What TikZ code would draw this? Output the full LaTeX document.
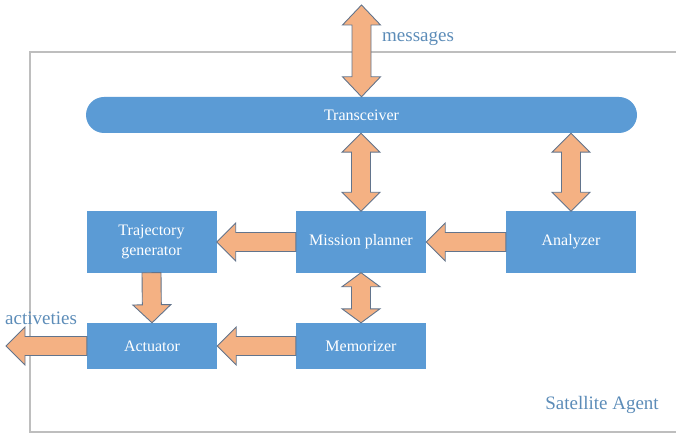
\documentclass[tikz,border=0pt]{standalone}
\usepackage{fontspec}
\setmainfont{Liberation Serif}
\usepackage{xcolor}
\usepackage{tikz}
\usetikzlibrary{calc,positioning}

\definecolor{boxblue}{RGB}{91,155,213}
\definecolor{arroworange}{RGB}{244,177,131}
\definecolor{arrowedge}{RGB}{98,116,140}
\definecolor{labelblue}{RGB}{92,140,184}
\definecolor{framegray}{RGB}{190,190,190}

% fat block arrow from #2 to #3, #1 = head length
\newcommand{\fatarrow}[3][19]{%
	\path[blockarrow] let \p1=(#2), \p2=(#3),
		\n1={atan2(\y2-\y1,\x2-\x1)}, \n2={veclen(\x2-\x1,\y2-\y1)} in
		[shift={(\p1)}, rotate=\n1]
		(0,-9.5) -- (\n2-#1,-9.5) -- (\n2-#1,-19) -- (\n2,0)
		-- (\n2-#1,19) -- (\n2-#1,9.5) -- (0,9.5) -- cycle;}
% same, with a head on both ends
\newcommand{\twinarrow}[3][19]{%
	\path[blockarrow] let \p1=(#2), \p2=(#3),
		\n1={atan2(\y2-\y1,\x2-\x1)}, \n2={veclen(\x2-\x1,\y2-\y1)} in
		[shift={(\p1)}, rotate=\n1]
		(0,0) -- (#1,19) -- (#1,9.5) -- (\n2-#1,9.5) -- (\n2-#1,19) -- (\n2,0)
		-- (\n2-#1,-19) -- (\n2-#1,-9.5) -- (#1,-9.5) -- (#1,-19) -- cycle;}

\begin{document}
\begin{tikzpicture}[x=1pt, y=1pt,
		block/.style={fill=boxblue, text=white, font=\fontsize{16}{20}\selectfont,
				minimum width=130pt, align=center, inner sep=0pt},
		blockarrow/.style={fill=arroworange, draw=arrowedge, line width=0.9pt, line join=miter},
		tag/.style={text=labelblue, font=\fontsize{19}{22}\selectfont, inner sep=0pt}]
	\useasboundingbox (0,0) rectangle (676,434);

	% agent frame, open on the right
	\draw[framegray, line width=1.6pt] (676,382) -- (30,382) -- (30,2) -- (676,2);

	\node[block, minimum width=551pt, minimum height=36pt, rounded corners=18pt] (transceiver) at (361.5,319) {Transceiver};

	\node[block, minimum height=61pt] (trajgen) at (151.5,192) {Trajectory\\generator};
	\node[block, minimum height=61pt] (planner) at (361,192) {Mission planner};
	\node[block, minimum height=61pt] (analyzer) at (571,192) {Analyzer};
	\node[block, minimum height=46pt] (actuator) at (152,88) {Actuator};
	\node[block, minimum height=46pt] (memorizer) at (361,88) {Memorizer};

	\coordinate (msgend) at (361.5,429);
	\coordinate (actend) at (6,88);

	\twinarrow[20]{transceiver.north}{msgend}
	\twinarrow{transceiver.south -| planner.north}{planner.north}
	\twinarrow{transceiver.south -| analyzer.north}{analyzer.north}
	\twinarrow[14]{planner.south}{memorizer.north}
	\fatarrow{planner.west}{trajgen.east}
	\fatarrow{analyzer.west}{planner.east}
	\fatarrow[18]{trajgen.south}{actuator.north}
	\fatarrow{memorizer.west}{actuator.east}
	\fatarrow{actuator.west}{actend}

	\node[tag, anchor=west] (msglabel) at (382,395) {messages};
	\node[tag] (actlabel) at (41,116) {activeties};
	\node[tag] (agentlabel) at (602,29) {Satellite Agent};
\end{tikzpicture}
\end{document}
